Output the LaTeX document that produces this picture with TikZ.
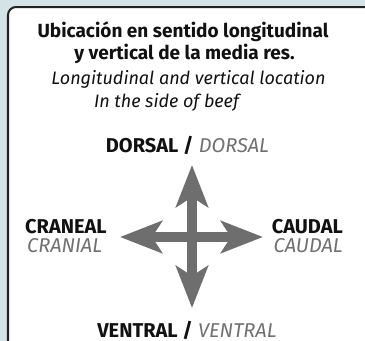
\documentclass[tikz,border=0pt]{standalone}
\usepackage{fontspec}
\setmainfont{Fira Sans}
\usetikzlibrary{arrows.meta}
\definecolor{bgc}{HTML}{D3E3E7}
\definecolor{boxc}{HTML}{222222}
\definecolor{arrc}{HTML}{6E6E6E}
\definecolor{labgray}{HTML}{707070}
\definecolor{txt}{HTML}{111111}
\tikzset{
  ttl/.style={inner sep=0pt, anchor=base, text=txt, font=\fontsize{19bp}{22bp}\selectfont\bfseries},
  ttlit/.style={inner sep=0pt, anchor=base, text=txt, font=\fontsize{18bp}{22bp}\selectfont\itshape},
  lab/.style={inner sep=0pt, text=txt, font=\fontsize{20bp}{24bp}\selectfont},
  bigarrow/.style={line width=10bp, draw=arrc, {Stealth[length=42bp,width=32bp,inset=10bp]}-{Stealth[length=42bp,width=32bp,inset=10bp]}}
}
\begin{document}
\begin{tikzpicture}[x=1bp,y=-1bp]
\useasboundingbox (0,0) rectangle (365,341);
\clip (0,0) rectangle (365,341);
\fill[bgc] (0,0) rectangle (365,341);
\draw[line width=2bp, fill=white, rounded corners=8bp, draw=boxc] (8,7) rectangle (385,370);
\node[ttl] (t1) at (183,37) {Ubicación en sentido longitudinal};
\node[ttl] (t2) at (184.5,59) {y vertical de la media res.};
\node[ttlit] (t3) at (188.5,84) {Longitudinal and vertical location};
\node[ttlit] (t4) at (166.5,107) {In the side of beef};
\node[lab, anchor=base] (dorsal) at (187.5,152) {\textbf{DORSAL /} \textcolor{labgray}{\itshape DORSAL}};
\node[lab, anchor=base west] (craneal) at (25,233) {\textbf{CRANEAL}};
\node[lab, anchor=base west] (cranial) at (27,252) {\textcolor{labgray}{\itshape CRANIAL}};
\node[lab, anchor=base east] (caudal) at (343,233) {\textbf{CAUDAL}};
\node[lab, anchor=base east] (caudalit) at (343,252) {\textcolor{labgray}{\itshape CAUDAL}};
\node[lab, anchor=base] (ventral) at (187,337) {\textbf{VENTRAL /} \textcolor{labgray}{\itshape VENTRAL}};
\coordinate (up) at (192,165);
\coordinate (down) at (192,308);
\coordinate (left) at (120,237);
\coordinate (right) at (263,237);
\draw[bigarrow] (left) -- (right);
\draw[bigarrow] (down) -- (up);
\end{tikzpicture}
\end{document}
